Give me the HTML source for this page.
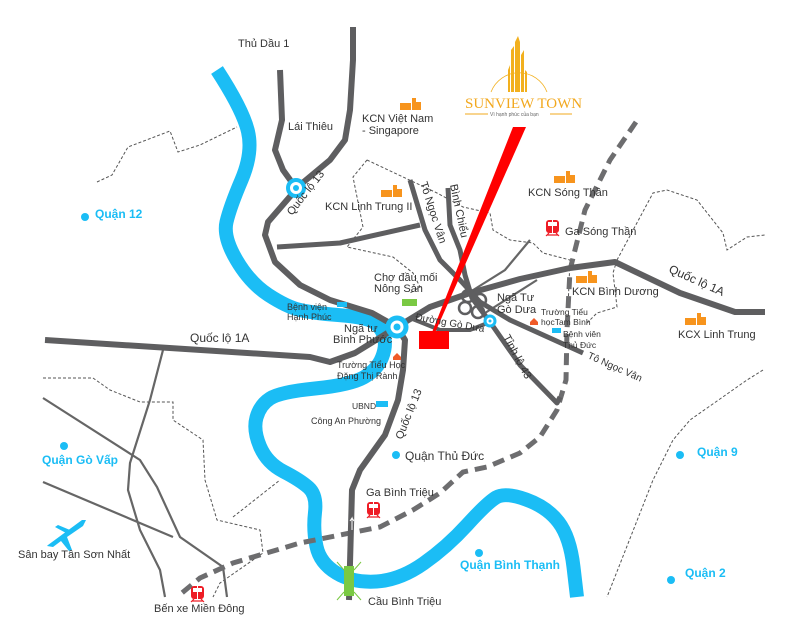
<!DOCTYPE html>
<html><head><meta charset="utf-8"><style>
html,body{margin:0;padding:0;background:#fff;}
svg{display:block;}
text{font-family:"Liberation Sans",sans-serif;fill:#333;}
.s{font-size:11px;}
.xs{font-size:8.5px;}
.q{font-size:12px;font-weight:bold;fill:#1bbdf5;}
</style></head><body>
<svg width="786" height="641" viewBox="0 0 786 641" xmlns="http://www.w3.org/2000/svg">
<defs>
<g id="fac"><rect x="0" y="5" width="11" height="7" fill="#f7941d"/><rect x="12" y="0" width="4" height="12" fill="#f7941d"/><rect x="15" y="4" width="6" height="8" fill="#f7941d"/></g>
<g id="train"><rect x="0" y="0" width="13" height="13" rx="3" fill="#ee1c25"/><rect x="2" y="2" width="4" height="4" fill="#fff"/><rect x="7" y="2" width="4" height="4" fill="#fff"/><rect x="6" y="0" width="1" height="13" fill="#fff"/><path d="M0 16 L3 13 M13 16 L10 13 M1 15 H12" stroke="#ee1c25" stroke-width="1.2"/></g>
</defs>
<g fill="none" stroke="#555" stroke-width="1" stroke-dasharray="3,2">
<path d="M97 182 L112 175 L128 147 L170 131 L178 152 L200 145 L237 127"/>
<path d="M367 160 L437 193 L463 207 L490 213 L493 230 L510 240 L533 243 L543 253 L570 260 L568 307"/>
<path d="M367 160 L353 177 L363 227 L347 247 L393 257 L413 273 L420 287 L410 293"/>
<path d="M617 260 L653 193 L667 190 L697 200 L723 233 L727 250 L747 237 L765 235"/>
<path d="M617 260 L613 273 L617 307 L597 313 L587 323"/>
<path d="M763 370 L747 380 L690 420 L673 440 L653 480 L607 597"/>
<path d="M43 378 L93 378 L110 390 L140 402 L173 402 L173 420 L203 440 L205 480 L217 520 L260 530 L263 553 L220 583 L213 597"/>
<path d="M233 517 L280 480"/>
</g>
<g fill="none" stroke="#666" stroke-width="2.2">
<path d="M163 350 L150 400 L130 463 L128 490 L140 530 L160 570 L165 597"/>
<path d="M43 398 L140 460 L157 487 L180 537 L223 567 L227 597"/>
<path d="M43 482 L173 537"/>
<path d="M470 292 L505 270 L530 240"/>
<path d="M485 313 L537 280"/>
</g>
<path d="M217 70 Q243 110 248 131.5 Q253 153 241.5 180 Q230 207 226.5 222 Q223 237 236.5 260 Q250 283 268.5 295 Q287 307 300 310 Q313 313 338 315 Q363 317 371.5 321 Q380 325 383.5 335 Q387 345 382 357.5 Q377 370 363.5 377.5 Q350 385 315 388.5 Q280 392 270 398.5 Q260 405 256.5 417.5 Q253 430 260 446.5 Q267 463 283.5 471.5 Q300 480 308.5 487.5 Q317 495 315 512.5 Q313 530 316.5 546.5 Q320 563 336.5 573 Q353 583 376.5 581.5 Q400 580 423.5 563.5 Q447 547 467 525 Q487 503 496 497.5 Q505 492 526 499.5 Q547 507 558.5 522 Q570 537 573.5 567 L577 597" fill="none" stroke="#1bbdf5" stroke-width="14" stroke-linejoin="round"/>
<path d="M636 122 L610 160 L585 210 L570 270 L567 330 L566 380 L557 410 L540 437 L520 453 L487 467 L463 472 L440 493 L413 510 L380 527 L300 543 L233 563 L200 578 L177 597" fill="none" stroke="#6d6d6f" stroke-width="5" stroke-dasharray="12,7"/>
<g fill="none" stroke="#5e5e60" stroke-width="6" stroke-linejoin="round">
<path d="M353 27 L353 60 L350 110 L345 140 L330 160 L300 185 L268 222 L265 235 L275 262 L300 285 L330 300 L372 313 L397 327"/>
<path d="M397 327 L405 340 L403 370 L398 400 L385 435 L360 470 L352 490 L349 600"/>
<path d="M280 70 L282 120 L275 150 L283 170 L296 188"/>
<path d="M45 340 L310 357 L330 362 L355 353 L397 327 L430 307 L470 293 L520 279 L570 268 L615 262 L680 293 L735 312 L765 312"/>
<path d="M277 247 L340 243 L420 225" stroke-width="5"/>
<path d="M410 180 L425 230 L440 260 L460 280 L480 302 L510 320 L583 353" stroke-width="5"/>
<path d="M448 188 L450 225 L460 250 L465 275 L472 298 L490 322 L520 365 L557 403 L560 397" stroke-width="5"/>
<path d="M410 318 L440 330 L470 330 L490 322" stroke-width="4"/>
</g>
<g fill="none" stroke="#5e5e60" stroke-width="2.5">
<circle cx="468" cy="296" r="6"/><circle cx="480" cy="300" r="6"/><circle cx="465" cy="308" r="6"/><circle cx="478" cy="312" r="6"/>
</g>
<g fill="none" stroke="#1bbdf5">
<circle cx="296" cy="188" r="8" stroke-width="4" fill="#fff"/><circle cx="397" cy="327" r="9" stroke-width="5" fill="#fff"/><circle cx="490" cy="321" r="5" stroke-width="3" fill="#fff"/>
</g>
<circle cx="296" cy="188" r="3" fill="#1bbdf5"/><circle cx="397" cy="327" r="3.5" fill="#1bbdf5"/><circle cx="490" cy="321" r="1.5" fill="#1bbdf5"/>
<polygon points="513,127 526,127 434,335 431,335" fill="#ff0000"/>
<rect x="419" y="331" width="30" height="18" fill="#ff0000"/>
<g fill="#f2b01e">
<polygon points="511,92 511,50 514,46 514,92"/><polygon points="515,92 515,42 518,36 520,42 520,92"/><polygon points="521,92 521,55 524,50 524,92"/><polygon points="508,92 508,70 510,65 510,92"/><polygon points="525,92 525,70 527,72 527,92"/>
</g>
<path d="M491 92 A30 30 0 0 1 547 92" fill="none" stroke="#f2b01e" stroke-width="0.8"/>
<text x="465" y="108" style="font-family:'Liberation Serif',serif;font-size:15px;fill:#f2a81e;">SUNVIEW TOWN</text>
<line x1="465" y1="114" x2="488" y2="114" stroke="#f2a81e"/><line x1="550" y1="114" x2="572" y2="114" stroke="#f2a81e"/>
<text x="490" y="116" style="font-size:5px;fill:#666;">Vì hạnh phúc của bạn</text>
<use href="#fac" x="400" y="98"/><use href="#fac" x="381" y="185"/><use href="#fac" x="554" y="171"/><use href="#fac" x="576" y="271"/><use href="#fac" x="685" y="313"/>
<use href="#train" x="546" y="220"/><use href="#train" x="367" y="502"/><use href="#train" x="191" y="586"/>
<rect x="402" y="299" width="15" height="7" fill="#7ac943"/>
<rect x="337" y="302" width="10" height="5" fill="#1bbdf5"/><rect x="552" y="328" width="9" height="5" fill="#1bbdf5"/>
<path d="M393 357 l4 -4 l4 4 v3 h-8z" fill="#f05a28"/><path d="M530 322 l4 -4 l4 4 v3 h-8z" fill="#f05a28"/>
<rect x="376" y="401" width="12" height="6" fill="#1bbdf5"/>
<rect x="344" y="566" width="10" height="30" fill="#7ac943"/>
<path d="M337 562 L344 570 M361 562 L354 570 M337 600 L344 592 M361 600 L354 592" stroke="#7ac943" stroke-width="1"/>
<path d="M352 530 v-12 l-2 3 M352 518 l2 3" stroke="#fff" stroke-width="1" fill="none"/>
<path d="M48 545 L82 520 L86 520 L83 526 L67 537 L72 550 L69 551 L61 541 L53 547 L47 546 Z M58 525 L70 530 L66 533 L55 527 Z" fill="#1bbdf5"/>
<text class="s" x="238" y="47">Thủ Dầu 1</text>
<text class="s" x="288" y="130">Lái Thiêu</text>
<text class="s" x="362" y="122">KCN Việt Nam</text>
<text class="s" x="362" y="134">- Singapore</text>
<text class="s" transform="translate(292,216) rotate(-52)">Quốc lộ 13</text>
<text class="s" x="325" y="210">KCN Linh Trung II</text>
<text class="s" transform="translate(420,183) rotate(72)">Tô Ngọc Vân</text>
<text class="s" transform="translate(450,185) rotate(78)">Bình Chiểu</text>
<text class="s" x="528" y="196">KCN Sóng Thần</text>
<text class="s" x="565" y="235">Ga Sóng Thần</text>
<text class="s" x="374" y="281">Chợ đầu mối</text>
<text class="s" x="374" y="292">Nông Sản</text>
<text class="s" x="497" y="301">Ngã Tư</text>
<text class="s" x="497" y="313">Gò Dưa</text>
<text class="s" x="572" y="295">KCN Bình Dương</text>
<text class="s" transform="translate(668,272) rotate(24)" style="font-size:12px">Quốc lộ 1A</text>
<text class="s" x="678" y="338">KCX Linh Trung</text>
<text class="xs" x="541" y="315">Trường Tiểu</text>
<text class="xs" x="541" y="325">họcTam Bình</text>
<text class="xs" x="563" y="337">Bệnh viên</text>
<text class="xs" x="563" y="348">Thủ Đức</text>
<text class="s" transform="translate(587,358) rotate(24)" style="font-size:10px">Tô Ngọc Vân</text>
<text class="s" transform="translate(503,337) rotate(62)">Tỉnh lộ 43</text>
<text class="s" transform="translate(415,320) rotate(10)" style="font-size:10px">Đường Gò Dưa</text>
<text class="xs" x="287" y="310" style="font-size:9px">Bệnh viện</text>
<text class="xs" x="287" y="320" style="font-size:9px">Hạnh Phúc</text>
<text class="s" x="344" y="332">Ngã tư</text>
<text class="s" x="333" y="343">Bình Phước</text>
<text class="s" x="190" y="342" style="font-size:12px">Quốc lộ 1A</text>
<text class="xs" x="337" y="368" style="font-size:9px">Trường Tiểu Học</text>
<text class="xs" x="337" y="379" style="font-size:9px">Đặng Thị Rành</text>
<text class="xs" x="352" y="409">UBND</text>
<text class="xs" x="311" y="424" style="font-size:9px">Công An Phường</text>
<text class="s" transform="translate(402,440) rotate(-68)">Quốc lộ 13</text>
<circle cx="396" cy="455" r="4" fill="#1bbdf5"/><text class="s" x="405" y="460" style="font-size:12px">Quận Thủ Đức</text>
<circle cx="85" cy="217" r="4" fill="#1bbdf5"/><text class="q" x="95" y="218">Quận 12</text>
<circle cx="64" cy="446" r="4" fill="#1bbdf5"/><text class="q" x="42" y="464">Quận Gò Vấp</text>
<circle cx="680" cy="455" r="4" fill="#1bbdf5"/><text class="q" x="697" y="456">Quận 9</text>
<circle cx="671" cy="580" r="4" fill="#1bbdf5"/><text class="q" x="685" y="577">Quận 2</text>
<circle cx="479" cy="553" r="4" fill="#1bbdf5"/><text class="q" x="460" y="569">Quận Bình Thạnh</text>
<text class="s" x="366" y="496">Ga Bình Triệu</text>
<text class="s" x="18" y="558">Sân bay Tân Sơn Nhất</text>
<text class="s" x="154" y="612">Bến xe Miền Đông</text>
<text class="s" x="368" y="605">Cầu Bình Triệu</text>
</svg>
</body></html>
